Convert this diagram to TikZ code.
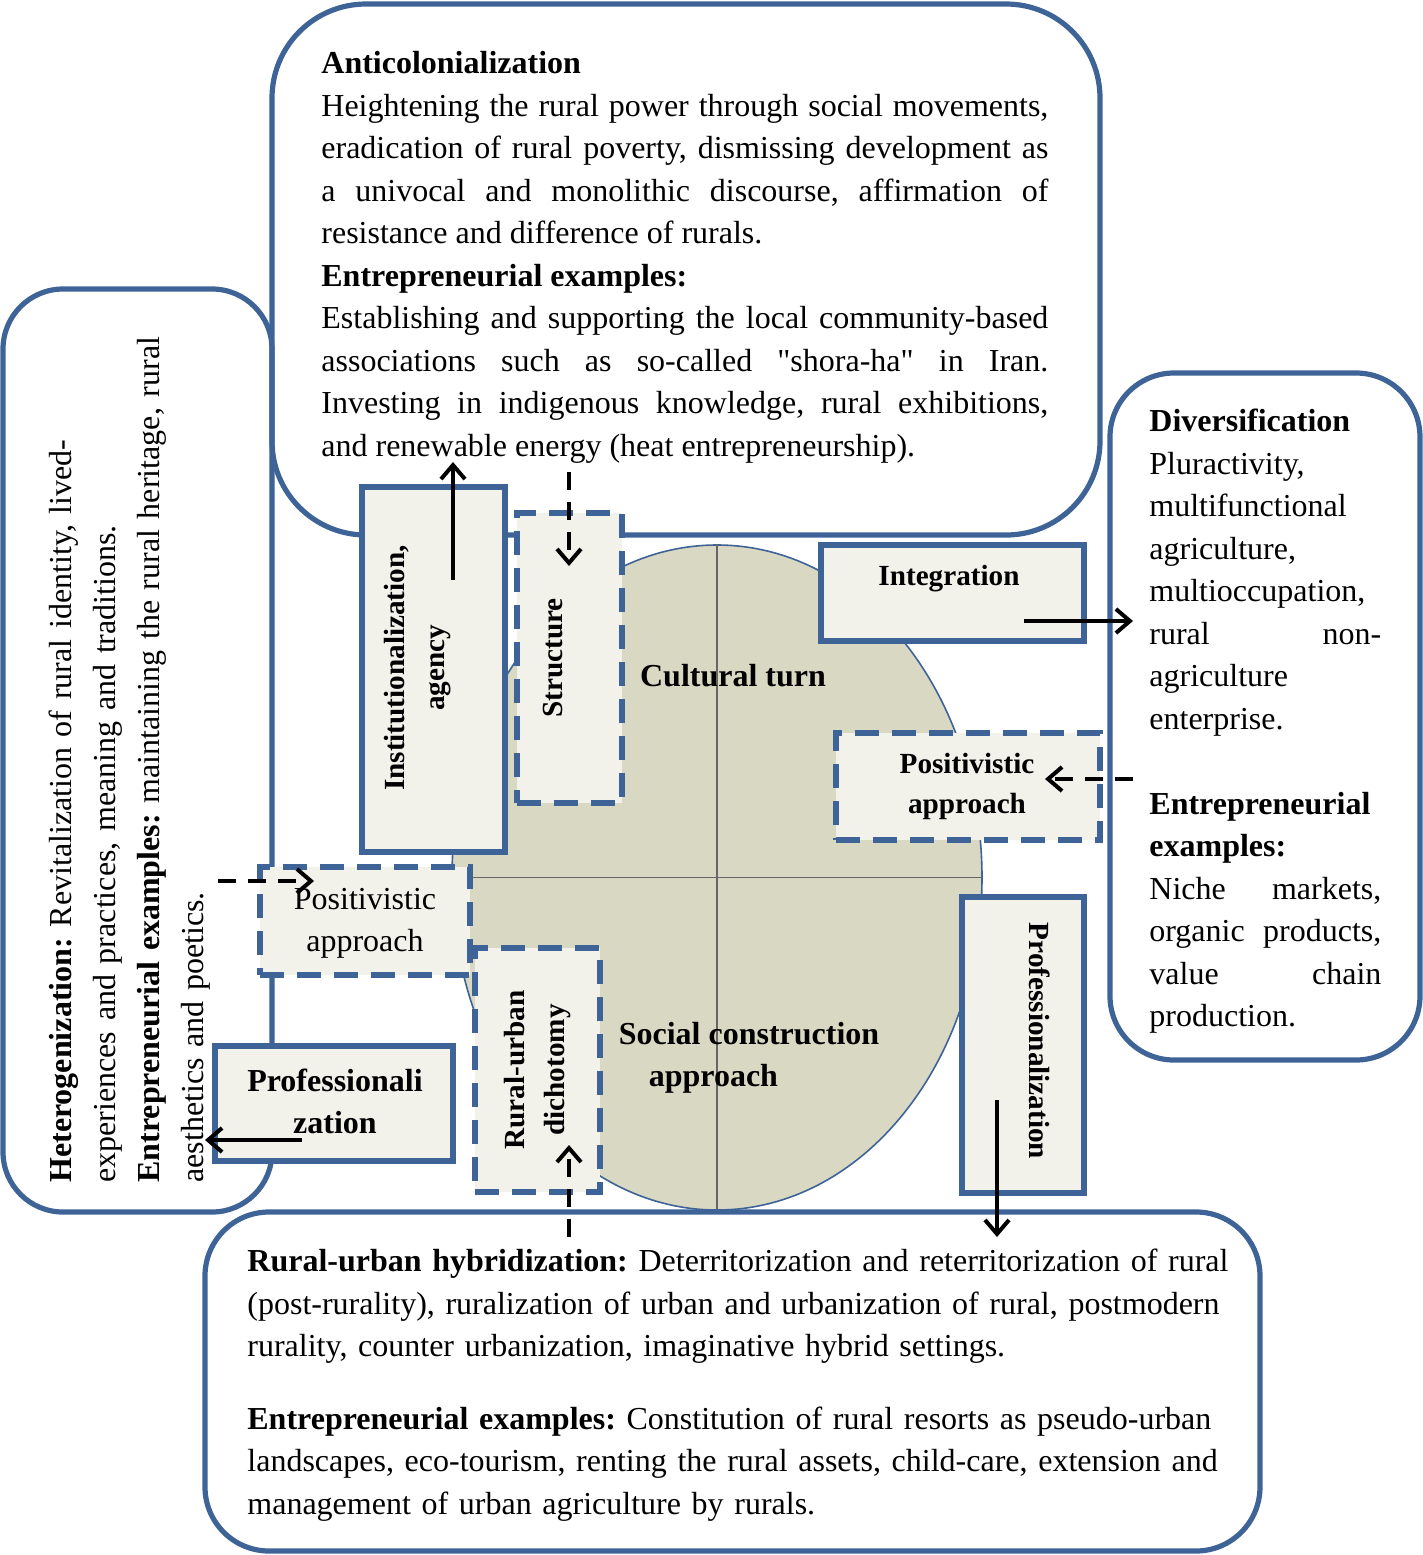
\documentclass[tikz,border=0pt]{standalone}
\usepackage{fontspec}
\setmainfont{Liberation Serif}[Ligatures=TeXOff]
\usetikzlibrary{arrows.meta,shapes.geometric}
\setlength{\parindent}{0pt}
\definecolor{bblue}{HTML}{3E6497}
\definecolor{bfill}{HTML}{F2F1EA}
\definecolor{efill}{HTML}{D9D8C3}
\hyphenpenalty=10000
\exhyphenpenalty=10000
\frenchspacing
\begin{document}
\begin{tikzpicture}[x=0.5pt,y=-0.5pt,
  bigbox/.style={draw=bblue, line width=2.6pt, rectangle, inner sep=0pt, outer sep=0pt},
  solidbox/.style={draw=bblue, line width=3pt, fill=bfill, rectangle, inner sep=0pt},
  dashbox/.style={solidbox, dash pattern=on 12pt off 6.5pt},
  body/.style={font=\fontsize{16}{21.25}\selectfont, inner sep=0pt, anchor=north west},
  lbl/.style={font=\fontsize{14.6}{20}\selectfont\bfseries, align=center, inner sep=0pt},
  lblbig/.style={font=\fontsize{16}{21}\selectfont\bfseries, align=center, inner sep=0pt},
  arr/.style={line width=2pt, -{Straight Barb[length=7pt,width=12pt]}},
  darr/.style={arr, dash pattern=on 9pt off 6pt},
]
\useasboundingbox (0,0) rectangle (1423,1555);

% central ellipse with cross
\node[ellipse, draw=bblue, line width=0.8pt, fill=efill, minimum width=265pt, minimum height=332.5pt, inner sep=0pt] (ell) at (717,877.5) {};
\draw[black!60, line width=0.7pt] (ell.north) -- (ell.south) (ell.west) -- (ell.east);

% big rounded boxes
\node[bigbox, rounded corners=47pt, minimum width=414pt, minimum height=265.5pt] (topbox) at (686,269.5) {};
\node[bigbox, rounded corners=30pt, minimum width=134.5pt, minimum height=461.5pt] (leftbox) at (137.5,750.5) {};
\node[bigbox, rounded corners=32pt, minimum width=155pt, minimum height=343.5pt] (rightbox) at (1265,716.5) {};
\node[bigbox, rounded corners=32pt, minimum width=527.5pt, minimum height=169.5pt] (botbox) at (732.5,1381.5) {};

% small boxes
\node[solidbox, minimum width=71.5pt, minimum height=182.5pt] (inst) at (433.5,669.5) {};
\node[dashbox, minimum width=52.5pt, minimum height=145pt] (struct) at (569.5,658) {};
\node[solidbox, minimum width=131.5pt, minimum height=48pt] (integ) at (952.5,593) {};
\node[dashbox, minimum width=132pt, minimum height=53.5pt] (posR) at (968,786.5) {};
\node[dashbox, minimum width=105pt, minimum height=54pt] (posL) at (365,921) {};
\node[solidbox, minimum width=119pt, minimum height=57.5pt] (profL) at (334,1103.5) {};
\node[dashbox, minimum width=62.5pt, minimum height=122pt] (rud) at (537.5,1070) {};
\node[solidbox, minimum width=61pt, minimum height=148pt] (profR) at (1023,1045) {};

% texts of the big boxes
\node[body, text width=363.5pt, align=justify] (toptext) at (321,51) {\textbf{Anticolonialization}\\
Heightening the rural power through social movements,\linebreak
eradication of rural poverty, dismissing development as\linebreak
a univocal and monolithic discourse, affirmation of\linebreak
resistance and difference of rurals.\\
\textbf{Entrepreneurial examples:}\\
Establishing and supporting the local community-based\linebreak
associations such as so-called "shora-ha" in Iran.\linebreak
Investing in indigenous knowledge, rural exhibitions,\linebreak
and renewable energy (heat entrepreneurship).};

\node[body, text width=116pt, align=justify] (righttext) at (1149,409) {\textbf{Diversification}\\
Pluractivity,\\
multifunctional\\
agriculture,\\
multioccupation,\\
rural non-\linebreak
agriculture\\
enterprise.\\[21.25pt]
\textbf{Entrepreneurial}\\
\textbf{examples:}\\
Niche markets,\linebreak
organic products,\linebreak
value chain\linebreak
production.};

\node[body, text width=520pt, align=left] (bottext) at (247,1249) {\textbf{Rural-urban hybridization:} Deterritorization and reterritorization of rural\\
(post-rurality), ruralization of urban and urbanization of rural, postmodern\\
rurality, counter urbanization, imaginative hybrid settings.\\[15pt]
\textbf{Entrepreneurial examples:} Constitution of rural resorts as pseudo-urban\\
landscapes, eco-tourism, renting the rural assets, child-care, extension and\\
management of urban agriculture by rurals.};

\node[body, rotate=90, text width=440pt, align=left, font=\fontsize{16}{22}\selectfont] (lefttext) at (49,1183) {\textbf{Heterogenization:} Revitalization of rural identity, lived-\\
experiences and practices, meaning and traditions.\\
\textbf{Entrepreneurial examples:} maintaining the rural heritage, rural\\
aesthetics and poetics.};

% labels
\node[lbl, rotate=90] (instlbl) at (418,668) {Institutionalization,\\agency};
\node[lbl, rotate=90] (structlbl) at (553,658) {Structure};
\node[lbl] (integlbl) at (949,579) {Integration};
\node[lbl] (posRlbl) at (967,786) {Positivistic\\approach};
\node[font=\fontsize{16}{21}\selectfont, align=center, inner sep=0pt] (posLlbl) at (365,923) {Positivistic\\approach};
\node[lblbig] (profLlbl) at (335,1101) {Professionali\\zation};
\node[lbl, rotate=90] (rudlbl) at (538,1070) {Rural-urban\\dichotomy};
\node[lbl, rotate=-90] (profRlbl) at (1040,1041) {Professionalization};
\node[lblbig] (cultlbl) at (733,676) {Cultural turn};
\node[lblbig, align=left] (sclbl) at (749,1058) {Social construction\\\hspace*{15pt}approach};

% arrow end points
\coordinate (a1s) at (453,580);  \coordinate (a1e) at (453,462);
\coordinate (a2s) at (569,472);  \coordinate (a2e) at (569,566);
\coordinate (a3s) at (1024,621); \coordinate (a3e) at (1133,621);
\coordinate (a4s) at (1133,779); \coordinate (a4e) at (1045,779);
\coordinate (a5s) at (218,881);  \coordinate (a5e) at (314,881);
\coordinate (a6s) at (302,1140); \coordinate (a6e) at (205,1140);
\coordinate (a7s) at (569,1237); \coordinate (a7e) at (569,1145);
\coordinate (a8s) at (997,1100); \coordinate (a8e) at (997,1237);

\draw[arr]  (a1s) -- (a1e);
\draw[darr] (a2s) -- (a2e);
\draw[arr]  (a3s) -- (a3e);
\draw[darr] (a4s) -- (a4e);
\draw[darr] (a5s) -- (a5e);
\draw[arr]  (a6s) -- (a6e);
\draw[darr] (a7s) -- (a7e);
\draw[arr]  (a8s) -- (a8e);
\end{tikzpicture}
\end{document}
